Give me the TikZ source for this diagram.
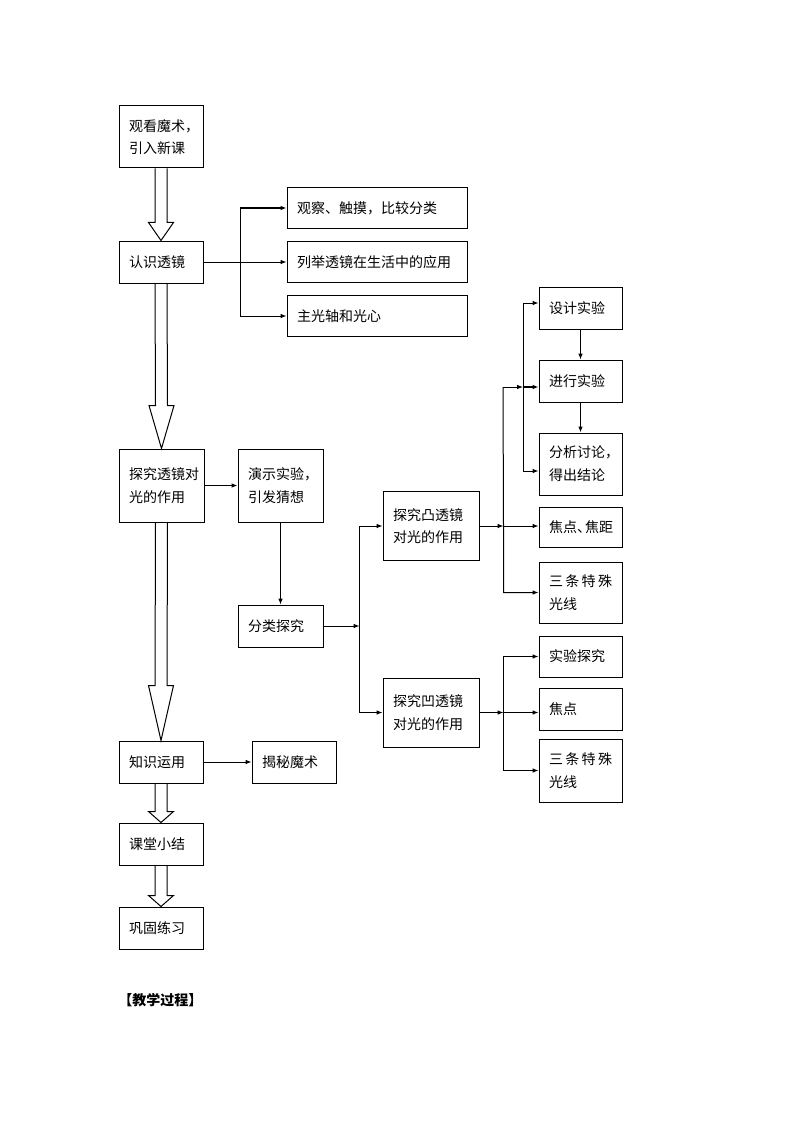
\documentclass[tikz,border=0pt]{standalone}
\usepackage{fontspec}
\setmainfont{Noto Sans CJK SC}
\usetikzlibrary{arrows.meta, calc}

\tikzset{
  box/.style={draw, line width=0.75pt, align=left, inner xsep=7.5pt, inner ysep=2pt,
              font=\fontsize{10.5}{17}\selectfont},
  conn/.style={line width=0.75pt, -{Latex[length=4.5pt,width=3.5pt]}},
  thickconn/.style={conn, line width=1.4pt},
  hollow/.style={line width=0.75pt, line join=miter},
}
% big hollow arrow from the bottom of #1 to the top of #2, head length #3
\newcommand{\hollowarrow}[3]{%
  \draw[hollow] ($(#1.south)+(-6,0)$) -- ($(#2.north)+(-6,-#3)$)
    -- ($(#2.north)+(-12.5,-#3)$) -- (#2.north) -- ($(#2.north)+(12.5,-#3)$)
    -- ($(#2.north)+(6,-#3)$) -- ($(#1.south)+(6,0)$);}

\begin{document}
\begin{tikzpicture}[x=0.75pt, y=-0.75pt]
  \useasboundingbox (0,0) rectangle (794,1123);

  % main column
  \node[box, text width=48pt, minimum height=46.5pt] at (161,137) (b1) {观看魔术，\\引入新课};
  \node[box, text width=48pt, minimum height=31.5pt] at (161,262) (b2) {认识透镜};
  \node[box, text width=48.75pt, minimum height=54.75pt] at (161.5,485.5) (b3) {探究透镜对\\光的作用};
  \node[box, text width=48pt, minimum height=31.5pt] at (161,762) (b4) {知识运用};
  \node[box, text width=48pt, minimum height=31.5pt] at (161,844) (b5) {课堂小结};
  \node[box, text width=48pt, minimum height=31.5pt] at (161,928) (b6) {巩固练习};

  \hollowarrow{b1}{b2}{18}
  \hollowarrow{b2}{b3}{43}
  \hollowarrow{b3}{b4}{55}
  \hollowarrow{b4}{b5}{11}
  \hollowarrow{b5}{b6}{11}

  % knowing lenses
  \node[box, text width=120pt, minimum height=30.75pt] at (377,208) (r1) {观察、触摸，比较分类};
  \node[box, text width=120pt, minimum height=30.75pt] at (377,262) (r2) {列举透镜在生活中的应用};
  \node[box, text width=120pt, minimum height=30.75pt] at (377,316) (r3) {主光轴和光心};
  \coordinate (c1) at (240,262);
  \coordinate (c1t) at (c1 |- r1.west);
  \draw[conn] (b2) -- (r2);
  \draw[line width=0.75pt] (c1t) -- (c1);
  \draw[conn] (c1) |- (r3);
  \draw[thickconn] (c1t) -- (r1);

  % exploring
  \node[box, text width=48.75pt, minimum height=54.75pt] at (280.5,485.5) (d1) {演示实验，\\引发猜想};
  \node[box, text width=48.75pt, minimum height=31.5pt] at (280.5,626) (d2) {分类探究};
  \node[box, text width=57pt, minimum height=51.75pt] at (431,526) (v1) {探究凸透镜\\对光的作用};
  \node[box, text width=57pt, minimum height=51.75pt] at (431,712.5) (v2) {探究凹透镜\\对光的作用};
  \draw[thickconn] (b3) -- (d1);
  \draw[conn] (d1) -- (d2);
  \coordinate (j2) at ($(d2.east)+(36,0)$);
  \draw[conn] (d2) -- (j2);
  \draw[conn] (j2) |- (v1);
  \draw[conn] (j2) |- (v2);

  % convex lens
  \node[box, text width=47.25pt, minimum height=31.5pt] at (580.5,308) (s1) {设计实验};
  \node[box, text width=47.25pt, minimum height=31.5pt] at (580.5,381) (s2) {进行实验};
  \node[box, text width=47.25pt, minimum height=46.5pt] at (580.5,464) (s3) {分析讨论，\\得出结论};
  \node[box, text width=47.25pt, minimum height=30pt] at (580.5,527) (s4) {焦点、\kern-4.5pt焦距};
  \node[box, text width=47.25pt, minimum height=45.75pt] at (580.5,592.5) (s5) {三\,条\,特\,殊\\光线};
  \coordinate (j3) at ($(v1.east)+(24,0)$);
  \coordinate (k1) at (503,387);
  \coordinate (k2) at (523,387);
  \coordinate (k3) at (523,303);
  \coordinate (k4) at (523,471);
  \draw[conn] (v1) -- (j3);
  \draw[conn] (j3) -- (j3 -| s4.west);
  \draw[conn] (k1) -- (j3) |- (s5);
  \draw[conn] (k1) -- (k2);
  \draw[thickconn] (k2) -- (k2 -| s2.west);
  \draw[conn] (k2) -- (k3) -- (k3 -| s1.west);
  \draw[conn] (k2) -- (k4) -- (k4 -| s3.west);
  \draw[conn] (s1) -- (s2);
  \draw[thickconn] (s2) -- (s3);

  % concave lens
  \node[box, text width=47.25pt, minimum height=30.75pt] at (580.5,656.5) (t1) {实验探究};
  \node[box, text width=47.25pt, minimum height=31.5pt] at (580.5,709) (t2) {焦点};
  \node[box, text width=47.25pt, minimum height=47.25pt] at (580.5,770.5) (t3) {三\,条\,特\,殊\\光线};
  \coordinate (j5) at ($(v2.east)+(24,0)$);
  \draw[conn] (v2) -- (j5);
  \draw[conn] (j5) -- (j5 -| t2.west);
  \draw[conn] (j5) |- (t1);
  \draw[conn] (j5) |- (t3);

  % application
  \node[box, text width=48pt, minimum height=31.5pt] at (294,762) (m1) {揭秘魔术};
  \draw[conn] (b4) -- (m1);

  \node[anchor=west, inner sep=0pt, font=\fontsize{10.5}{12}\selectfont\bfseries] at (118,1000) (title) {【教学过程】};
\end{tikzpicture}
\end{document}
